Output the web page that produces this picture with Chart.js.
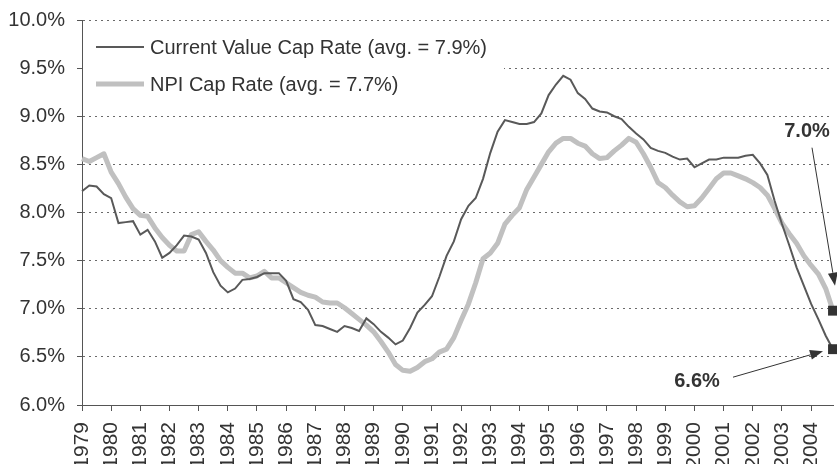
<!DOCTYPE html>
<html>
<head>
<meta charset="utf-8">
<script src="https://cdn.jsdelivr.net/npm/chart.js@4.4.1/dist/chart.umd.min.js"></script>
<style>
  html, body { margin: 0; padding: 0; background: #ffffff; overflow: hidden; }
  #wrap { width: 840px; height: 464px; position: relative; }
</style>
</head>
<body>
<div id="wrap"><canvas id="chart"></canvas></div>
<script>
// ---- Data (quarterly, 1979 Q1 .. 2004 Q4) ----
const years = [1979,1980,1981,1982,1983,1984,1985,1986,1987,1988,1989,1990,1991,
               1992,1993,1994,1995,1996,1997,1998,1999,2000,2001,2002,2003,2004];
const quartersPerYear = 4;

const currentValueCapRate = [
  8.22, 8.28, 8.27, 8.19,  8.15, 7.89, 7.90, 7.91,  7.77, 7.82, 7.70, 7.53,  7.58, 7.66, 7.76, 7.75,
  7.72, 7.58, 7.38, 7.24,  7.17, 7.21, 7.30, 7.31,  7.33, 7.37, 7.37, 7.37,  7.29, 7.10, 7.07, 6.99,
  6.83, 6.82, 6.79, 6.76,  6.82, 6.80, 6.77, 6.90,  6.84, 6.76, 6.70, 6.63,  6.67, 6.80, 6.96, 7.04,
  7.13, 7.33, 7.55, 7.70,  7.93, 8.07, 8.15, 8.35,  8.62, 8.84, 8.96, 8.94,  8.92, 8.92, 8.94, 9.03,
  9.22, 9.33, 9.42, 9.38,  9.24, 9.18, 9.08, 9.05,  9.04, 9.00, 8.97, 8.89,  8.82, 8.76, 8.67, 8.64,
  8.62, 8.58, 8.55, 8.56,  8.47, 8.51, 8.55, 8.55,  8.57, 8.57, 8.57, 8.59,  8.60, 8.51, 8.39, 8.12,
  7.88, 7.66, 7.43, 7.24,  7.05, 6.89, 6.72, 6.58
];

const npiCapRate = [
  8.56, 8.53, 8.57, 8.61,  8.42, 8.30, 8.16, 8.04,  7.97, 7.96, 7.84, 7.74,  7.66, 7.60, 7.60, 7.77,
  7.80, 7.70, 7.61, 7.50,  7.43, 7.37, 7.37, 7.32,  7.34, 7.39, 7.32, 7.32,  7.27, 7.22, 7.17, 7.14,
  7.12, 7.07, 7.06, 7.06,  7.01, 6.95, 6.89, 6.83,  6.76, 6.66, 6.55, 6.42,  6.36, 6.35, 6.39, 6.45,
  6.48, 6.55, 6.58, 6.70,  6.88, 7.05, 7.27, 7.52,  7.58, 7.68, 7.88, 7.97,  8.05, 8.24, 8.37, 8.50,
  8.63, 8.72, 8.77, 8.77,  8.72, 8.69, 8.61, 8.56,  8.57, 8.64, 8.70, 8.77,  8.73, 8.61, 8.47, 8.31,
  8.26, 8.18, 8.11, 8.06,  8.07, 8.15, 8.25, 8.35,  8.41, 8.41, 8.38, 8.35,  8.31, 8.26, 8.18, 8.04,
  7.89, 7.78, 7.68, 7.55,  7.45, 7.36, 7.21, 6.98
];

const seriesLabels = ['Current Value Cap Rate (avg. = 7.9%)', 'NPI Cap Rate (avg. = 7.7%)'];
const endValueLabels = ['6.6%', '7.0%'];   // current value, NPI
const yMin = 6.0, yMax = 10.0, yStep = 0.5;

// ---- Build points ----
function toPoints(values) {
  return values.map((v, i) => ({ x: years[0] + i / quartersPerYear, y: v }));
}
const lastIndex = currentValueCapRate.length - 1;
const xMax = years[0] + lastIndex / quartersPerYear;

const FONT = '"Liberation Sans", Arial, Helvetica, sans-serif';
const TEXT = '#333333';

// Legend drawn inside the plot, on a white box
const refLegend = {
  id: 'refLegend',
  beforeDatasetsDraw(chart) {
    const { ctx, chartArea: a } = chart;
    ctx.save();
    ctx.fillStyle = '#ffffff';
    ctx.fillRect(a.left + 1, a.top + 6, 421, 86);
    chart.data.datasets.forEach((ds, k) => {
      const y = a.top + 27 + k * 37;
      ctx.strokeStyle = ds.borderColor;
      ctx.lineWidth = ds.borderWidth;
      ctx.lineCap = 'butt';
      ctx.beginPath();
      ctx.moveTo(a.left + 14, y);
      ctx.lineTo(a.left + 62, y);
      ctx.stroke();
      ctx.fillStyle = TEXT;
      ctx.font = '20px ' + FONT;
      ctx.textBaseline = 'middle';
      ctx.textAlign = 'left';
      ctx.fillText(ds.label, a.left + 68, y + 1);
    });
    ctx.restore();
  }
};

// End-value callouts with arrows
function drawArrow(ctx, x1, y1, x2, y2) {
  const ang = Math.atan2(y2 - y1, x2 - x1);
  const L = 13, W = 5;
  const c = Math.cos(ang), s = Math.sin(ang);
  ctx.beginPath();
  ctx.moveTo(x1, y1);
  ctx.lineTo(x2 - L * c, y2 - L * s);
  ctx.stroke();
  ctx.beginPath();
  ctx.moveTo(x2, y2);
  ctx.lineTo(x2 - L * c + W * s, y2 - L * s - W * c);
  ctx.lineTo(x2 - L * c - W * s, y2 - L * s + W * c);
  ctx.closePath();
  ctx.fill();
}
const endNotes = {
  id: 'endNotes',
  afterDraw(chart) {
    const ctx = chart.ctx;
    ctx.save();
    ctx.strokeStyle = TEXT;
    ctx.fillStyle = TEXT;
    ctx.lineWidth = 1;
    ctx.font = 'bold 20px ' + FONT;
    ctx.textAlign = 'center';
    ctx.textBaseline = 'middle';
    const m0 = chart.getDatasetMeta(0).data[lastIndex];
    const m1 = chart.getDatasetMeta(1).data[lastIndex];
    // NPI
    ctx.fillText(endValueLabels[1], m1.x - 26, m1.y - 179);
    drawArrow(ctx, m1.x - 21, m1.y - 163, m1.x + 2, m1.y - 25);
    // Current value
    ctx.fillText(endValueLabels[0], m0.x - 136, m0.y + 32);
    drawArrow(ctx, m0.x - 100, m0.y + 28, m0.x - 10, m0.y + 2);
    ctx.restore();
  }
};

const lastOnly = (r) => (ctx) => (ctx.dataIndex === lastIndex ? r : 0);

new Chart(document.getElementById('chart'), {
  type: 'line',
  data: {
    datasets: [
      {
        label: seriesLabels[0],
        data: toPoints(currentValueCapRate),
        borderColor: '#595959',
        borderWidth: 2,
        tension: 0,
        pointStyle: 'rect',
        pointRadius: lastOnly(7),
        pointHoverRadius: 0,
        pointBackgroundColor: '#333333',
        pointBorderColor: '#333333',
        pointBorderWidth: 0,
        clip: false
      },
      {
        label: seriesLabels[1],
        data: toPoints(npiCapRate),
        borderColor: '#c0c0c0',
        borderWidth: 5,
        tension: 0,
        borderJoinStyle: 'round',
        pointStyle: 'rect',
        pointRadius: lastOnly(7),
        pointHoverRadius: 0,
        pointBackgroundColor: '#333333',
        pointBorderColor: '#333333',
        pointBorderWidth: 0,
        clip: false
      }
    ]
  },
  options: {
    responsive: true,
    maintainAspectRatio: false,
    animation: false,
    devicePixelRatio: 1,
    layout: { padding: { top: 20, right: 0, left: 0, bottom: 0 } },
    plugins: {
      legend: { display: false },
      tooltip: { enabled: false }
    },
    events: [],
    scales: {
      x: {
        type: 'linear',
        min: years[0],
        max: xMax,
        afterFit(scale) { scale.height = 59; scale.paddingLeft = 0; scale.paddingRight = 0; },
        border: { display: true, color: '#555555', width: 1 },
        grid: {
          display: true,
          drawOnChartArea: false,
          drawTicks: true,
          tickLength: 6,
          tickColor: '#555555',
          tickWidth: 1
        },
        ticks: {
          stepSize: 1,
          includeBounds: false,
          maxTicksLimit: 100,
          autoSkip: false,
          minRotation: 90,
          maxRotation: 90,
          padding: 11,
          color: TEXT,
          font: { family: FONT, size: 21 },
          callback: (v) => (years.includes(Math.round(v)) ? String(Math.round(v)) : '')
        }
      },
      y: {
        min: yMin,
        max: yMax,
        afterFit(scale) { scale.width = 82; scale.paddingTop = 0; scale.paddingBottom = 0; },
        border: { display: true, color: '#555555', width: 1, dash: [2, 4] },
        grid: {
          display: true,
          drawOnChartArea: true,
          color: (c) => (c.tick && c.tick.value === yMin ? 'rgba(0,0,0,0)' : '#6a6a6a'),
          lineWidth: 1,
          drawTicks: true,
          tickLength: 5,
          tickColor: '#555555',
          tickWidth: 1,
          tickBorderDash: []
        },
        ticks: {
          stepSize: yStep,
          padding: 12,
          color: TEXT,
          font: { family: FONT, size: 20 },
          callback: (v) => v.toFixed(1) + '%'
        }
      }
    }
  },
  plugins: [refLegend, endNotes]
});
</script>
</body>
</html>
